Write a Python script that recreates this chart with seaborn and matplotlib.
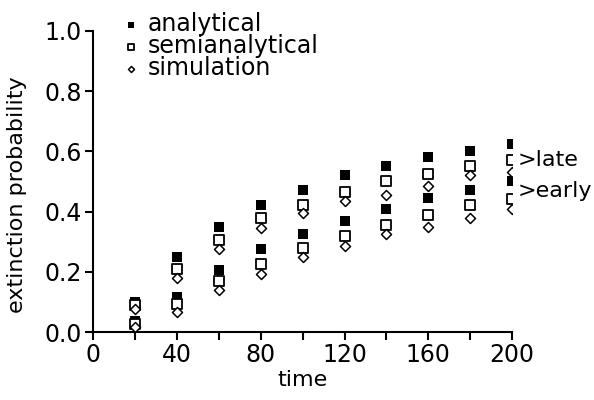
import pandas as pd
import matplotlib
matplotlib.use("Agg")
import matplotlib.pyplot as plt
import seaborn as sns

# data
time = [20, 40, 60, 80, 100, 120, 140, 160, 180, 200]

analytical_late = [0.10, 0.25, 0.35, 0.42, 0.47, 0.52, 0.55, 0.58, 0.60, 0.625]
semianalytical_late = [0.09, 0.21, 0.305, 0.38, 0.42, 0.465, 0.50, 0.525, 0.55, 0.57]
simulation_late = [0.075, 0.18, 0.275, 0.345, 0.395, 0.435, 0.455, 0.485, 0.52, 0.53]

analytical_early = [0.035, 0.115, 0.205, 0.275, 0.325, 0.37, 0.41, 0.445, 0.47, 0.50]
semianalytical_early = [0.027, 0.094, 0.17, 0.225, 0.28, 0.32, 0.355, 0.39, 0.42, 0.44]
simulation_early = [0.016, 0.065, 0.14, 0.193, 0.25, 0.285, 0.325, 0.35, 0.378, 0.41]

methods = ["analytical", "semianalytical", "simulation"]

rows = []
for m, late, early in zip(methods,
                          [analytical_late, semianalytical_late, simulation_late],
                          [analytical_early, semianalytical_early, simulation_early]):
    for t, v in zip(time, late):
        rows.append((t, v, m, "late"))
    for t, v in zip(time, early):
        rows.append((t, v, m, "early"))
df = pd.DataFrame(rows, columns=["time", "prob", "method", "phase"])

sns.set_style("ticks", {"text.color": "black", "axes.labelcolor": "black",
                        "xtick.color": "black", "ytick.color": "black",
                        "axes.edgecolor": "black"})
plt.rcParams["font.family"] = ["DejaVu Sans"]

fig = plt.figure(figsize=(5.94, 4.0), dpi=100)
ax = fig.add_axes([0.157, 0.17, 0.705, 0.753])

styles = {
    "analytical": dict(marker="s", s=60, color="black", edgecolor="black", linewidth=0),
    "semianalytical": dict(marker="s", s=50, facecolor="white", edgecolor="black", linewidth=1.3),
    "simulation": dict(marker="D", s=26, facecolor="white", edgecolor="black", linewidth=1.1),
}
for m in methods:
    sub = df[df["method"] == m]
    sns.scatterplot(data=sub, x="time", y="prob", ax=ax, label=m, zorder=3, **styles[m])

ax.set_xlim(0, 200)
ax.set_ylim(0, 1.0)
ax.set_xticks([0, 40, 80, 120, 160, 200])
ax.set_xticks([20, 60, 100, 140, 180], minor=True)
ax.set_yticks([0.0, 0.2, 0.4, 0.6, 0.8, 1.0])
ax.set_yticklabels(["0.0", "0.2", "0.4", "0.6", "0.8", "1.0"])
ax.tick_params(axis="both", which="both", direction="out", length=6, width=1.5,
               labelsize=17, pad=2)
ax.set_xlabel("time", fontsize=16, labelpad=2)
ax.set_ylabel("extinction probability", fontsize=16)
ax.yaxis.set_label_coords(-0.158, 0.455)
for side in ["top", "right"]:
    ax.spines[side].set_visible(False)
for side in ["left", "bottom"]:
    ax.spines[side].set_linewidth(1.5)

ax.text(202.5, 0.571, ">late", fontsize=16, va="center", ha="left", clip_on=False)
ax.text(202.5, 0.467, ">early", fontsize=16, va="center", ha="left", clip_on=False)

ax.legend(loc="upper left", bbox_to_anchor=(0.185, 1.0), bbox_transform=fig.transFigure,
          frameon=False, fontsize=17, markerscale=0.6, handletextpad=0.3,
          labelspacing=-0.08, borderaxespad=0.1, handlelength=0.8)

fig.savefig("out.png", dpi=100)
